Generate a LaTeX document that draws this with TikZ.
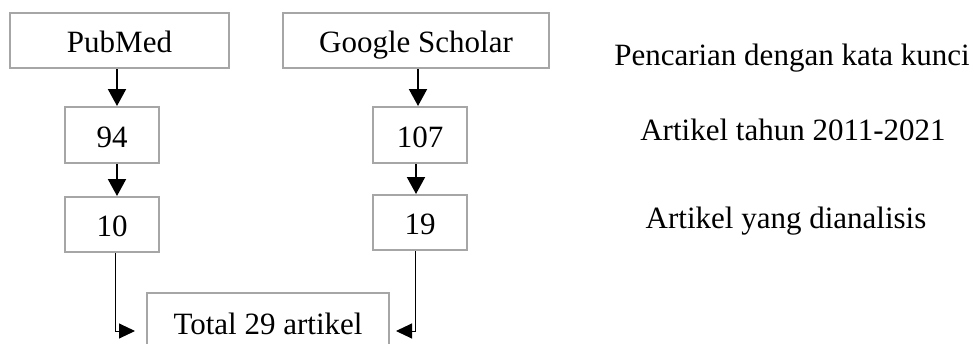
\documentclass[tikz,border=0pt]{standalone}
\usepackage{fontspec}
\setmainfont{Liberation Serif}
\usetikzlibrary{arrows.meta,positioning}

\begin{document}
\begin{tikzpicture}[
  x=1pt, y=-1pt,
  font=\fontsize{31}{36}\selectfont,
  box/.style={draw=gray!70, line width=2pt, inner sep=0pt,
              text height=24pt, text depth=0pt, align=center},
  flow/.style={line width=2pt, -{Triangle[width=18pt,length=17pt]}},
  merge/.style={line width=1pt, -{Triangle[width=15pt,length=16pt]}},
  note/.style={anchor=base},
]
\useasboundingbox (0,0) rectangle (974,343);

% sumber pencarian
\node[box, minimum width=219pt, minimum height=55pt] (pub) at (119.5,40.5) {PubMed};
\node[box, minimum width=266pt, minimum height=55pt] (gs) at (416,40.5) {Google Scholar};

% hasil penyaringan
\node[box, minimum width=94pt, minimum height=56pt] (n94) at (112,135) {94};
\node[box, minimum width=94pt, minimum height=56pt] (n107) at (420,135) {107};
\node[box, minimum width=94pt, minimum height=55pt] (n10) at (112,224.5) {10};
\node[box, minimum width=94pt, minimum height=55pt] (n19) at (420,222.5) {19};

% total
\node[box, minimum width=242pt, minimum height=58pt] (total) at (268,322) {Total 29 artikel};

% keterangan
\node[note] (k1) at (792,65) {Pencarian dengan kata kunci};
\node[note] (k2) at (793,140) {Artikel tahun 2011-2021};
\node[note] (k3) at (786,228) {Artikel yang dianalisis};

% panah
\draw[flow] ([xshift=5pt]n94.north |- pub.south) -- ([xshift=5pt]n94.north);
\draw[flow] ([xshift=5pt]n94.south) -- ([xshift=5pt]n10.north);
\draw[flow] ([xshift=-2pt]n107.north |- gs.south) -- ([xshift=-2pt]n107.north);
\draw[flow] ([xshift=-4pt]n107.south) -- ([xshift=-4pt]n19.north);
\draw[merge] ([xshift=3pt]n10.south) |- ([xshift=-11pt,yshift=-9pt]total.west);
\draw[merge] ([xshift=-5pt]n19.south) |- ([xshift=6pt,yshift=-9pt]total.east);

\end{tikzpicture}
\end{document}
